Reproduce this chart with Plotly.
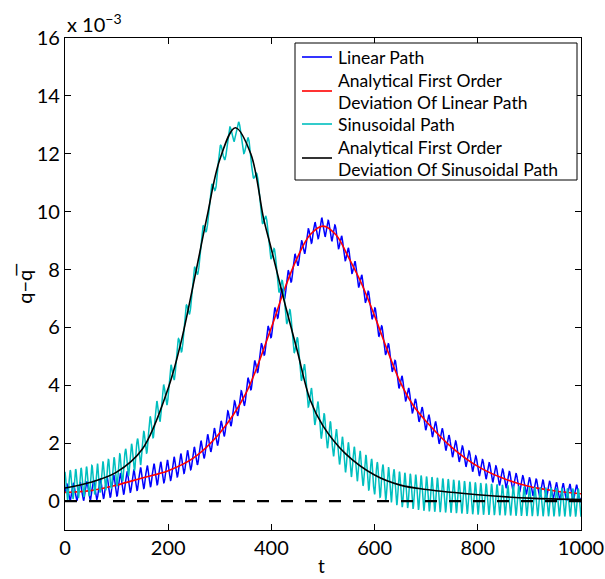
import numpy as np
import plotly.graph_objects as go

# ---- values (q - qbar, in units of 1e-3) ----
t_lin = [0, 50, 100, 150, 200, 250, 300, 350, 400, 425, 450, 475, 500, 525, 550, 575,
         600, 625, 650, 675, 700, 750, 800, 850, 900, 950, 1000]
lin_analytic = [0.30, 0.36, 0.55, 0.80, 1.05, 1.50, 2.35, 3.70, 6.00, 7.30, 8.40, 9.20, 9.50,
                9.20, 8.40, 7.50, 6.40, 5.20, 4.10, 3.30, 2.75, 1.85, 1.20, 0.78, 0.50,
                0.35, 0.25]
lin_amp = [0.30, 0.34, 0.38, 0.38, 0.38, 0.36, 0.35, 0.34, 0.33, 0.33, 0.32, 0.32, 0.32,
           0.32, 0.32, 0.32, 0.32, 0.32, 0.32, 0.32, 0.32, 0.32, 0.31, 0.31, 0.30, 0.30, 0.30]
lin_period = [13.0] * len(t_lin)

t_sin = [0, 50, 100, 150, 200, 225, 250, 275, 300, 330, 360, 385, 400, 425, 450, 475, 500,
         543, 600, 650, 700, 800, 900, 1000]
sin_analytic = [0.45, 0.65, 1.00, 1.80, 3.90, 5.50, 7.60, 9.80, 11.80, 12.90, 12.00, 9.75,
                8.70, 6.90, 5.20, 3.50, 2.60, 1.65, 0.90, 0.55, 0.40, 0.22, 0.10, 0.05]
sin_center = [0.52, 0.70, 1.02, 1.80, 3.90, 5.50, 7.60, 9.80, 11.85, 12.90, 12.00, 9.75,
              8.70, 6.90, 5.20, 3.50, 2.55, 1.55, 0.80, 0.40, 0.25, 0.08, -0.02, -0.06]
sin_amp = [0.50, 0.52, 0.52, 0.50, 0.48, 0.45, 0.42, 0.40, 0.40, 0.40, 0.40, 0.40, 0.42,
           0.45, 0.48, 0.50, 0.52, 0.55, 0.58, 0.60, 0.60, 0.55, 0.50, 0.48]
sin_period = [10.5, 10.5, 11, 12, 14, 15, 16, 17, 18, 18, 18, 17, 16, 15, 14, 13, 12,
              11.5, 11, 10.5, 10.5, 10.5, 10.5, 10.5]
sin_trough_t = 328      # a dip of the cyan wave sits at the top of the peak

x_ticks = [0, 200, 400, 600, 800, 1000]
y_ticks = [0, 2, 4, 6, 8, 10, 12, 14, 16]

legend_names = ["Linear Path",
                "Analytical First Order<br>Deviation Of Linear Path",
                "Sinusoidal Path",
                "Analytical First Order<br>Deviation Of Sinusoidal Path"]
legend_colors = ["#0000FF", "#FF0000", "#00BFBF", "#000000"]


def oscillating(t_pts, centre, amp, period, trough_at=None):
    tt = np.arange(0, 1000.001, 0.5)
    c = np.interp(tt, t_pts, centre)
    a = np.interp(tt, t_pts, amp)
    p = np.interp(tt, t_pts, period)
    phase = np.concatenate([[0], np.cumsum(2 * np.pi / p[:-1] * np.diff(tt))])
    if trough_at is not None:
        phase = phase - np.interp(trough_at, tt, phase) - np.pi / 2
    return tt, c + a * np.sin(phase)


t_b, y_b = oscillating(t_lin, lin_analytic, lin_amp, lin_period)
t_c, y_c = oscillating(t_sin, sin_center, sin_amp, sin_period, sin_trough_t)

FONT = "Lato"
fig = go.Figure()
fig.add_trace(go.Scatter(x=t_b, y=y_b, mode="lines", name=legend_names[0],
                         line=dict(color=legend_colors[0], width=1.5)))
fig.add_trace(go.Scatter(x=t_lin, y=lin_analytic, mode="lines", name=legend_names[1],
                         line=dict(color=legend_colors[1], width=1.6, shape="spline")))
fig.add_trace(go.Scatter(x=t_c, y=y_c, mode="lines", name=legend_names[2],
                         line=dict(color=legend_colors[2], width=1.5)))
fig.add_trace(go.Scatter(x=t_sin, y=sin_analytic, mode="lines", name=legend_names[3],
                         line=dict(color=legend_colors[3], width=1.6, shape="spline")))
fig.add_trace(go.Scatter(x=[0, 1000], y=[0, 0], mode="lines", name="zero",
                         line=dict(color="#000000", width=2.2, dash="12px,12px")))

axis_common = dict(showgrid=False, zeroline=False, showline=True, linecolor="black",
                   linewidth=1.2, mirror="ticks", ticks="inside", ticklen=6,
                   tickcolor="black", tickwidth=1, automargin=False,
                   tickfont=dict(family=FONT, size=20, color="black"))
fig.update_xaxes(range=[0, 1000], tickvals=x_ticks, ticktext=[str(v) for v in x_ticks],
                 **axis_common)
fig.update_yaxes(range=[-1, 16], tickvals=y_ticks, ticktext=[str(v) for v in y_ticks],
                 **axis_common)

# ---- legend box drawn in paper coordinates (plot area: x 65..581 px, y 38..530 px) ----
L, R, T, B = 65.0, 581.0, 38.0, 530.0
px = lambda x: (x - L) / (R - L)
py = lambda y: (B - y) / (B - T)

shapes = [dict(type="rect", xref="paper", yref="paper", x0=px(295), x1=px(577),
               y0=py(180), y1=py(43), line=dict(color="black", width=1),
               fillcolor="white", layer="above")]
sample_y = [57, 91, 124, 158]
for yy, col in zip(sample_y, legend_colors):
    shapes.append(dict(type="line", xref="paper", yref="paper", x0=px(302), x1=px(332),
                       y0=py(yy), y1=py(yy), line=dict(color=col, width=1.6),
                       layer="above"))

annotations = [
    dict(text="x 10<sup>\u22123</sup>", xref="paper", yref="paper", x=0, y=1,
         xanchor="left", yanchor="bottom", showarrow=False,
         font=dict(family=FONT, size=20, color="black")),
    dict(text="q\u2212q\u0305", xref="paper", yref="paper", x=-0.08, y=0.5,
         textangle=-90, xanchor="center", yanchor="middle", showarrow=False,
         font=dict(family=FONT, size=20, color="black")),
    dict(text="t", xref="paper", yref="paper", x=0.498, y=-0.072,
         xanchor="center", yanchor="middle", showarrow=False,
         font=dict(family=FONT, size=19, color="black")),
]
text_lines = []
for name in legend_names:
    text_lines += name.split("<br>")
text_y = [57.5, 80.5, 102.5, 124.5, 147, 169]
for txt, yy in zip(text_lines, text_y):
    annotations.append(dict(text=txt, xref="paper", yref="paper", x=px(336), y=py(yy),
                            xanchor="left", yanchor="middle", showarrow=False,
                            font=dict(family=FONT, size=17.5, color="black")))

fig.update_layout(
    width=605, height=579,
    margin=dict(l=65, r=24, t=38, b=49),
    plot_bgcolor="white", paper_bgcolor="white",
    font=dict(family=FONT, color="black"),
    showlegend=False,
    shapes=shapes,
    annotations=annotations,
)

fig.write_html("out.html")
